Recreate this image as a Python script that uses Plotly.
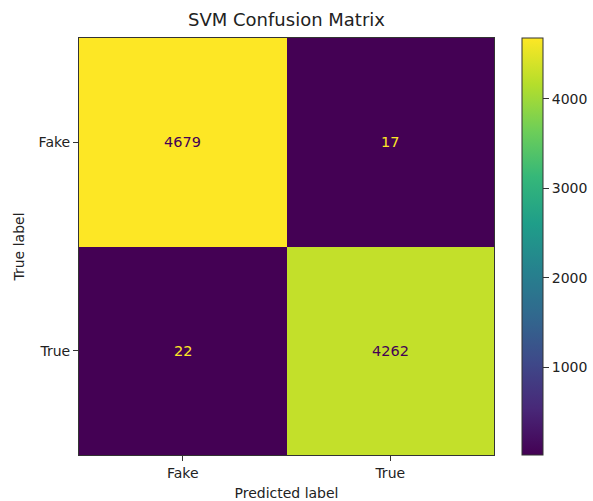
import plotly.graph_objects as go

# Confusion matrix for the SVM classifier
class_names = ["Fake", "True"]
counts = [
    [4679, 17],
    [22, 4262],
]
colorbar_ticks = [1000, 2000, 3000, 4000]

zmin = min(min(r) for r in counts)
zmax = max(max(r) for r in counts)
mid = (zmin + zmax) / 2

FONT = "DejaVu Sans, sans-serif"
DARK = "#440154"
LIGHT = "#fde725"
INK = "#222222"

W, H = 593, 501
L, R, T, B = 79, 99, 38, 46
plot_w = W - L - R

fig = go.Figure(
    go.Heatmap(
        z=counts,
        x=class_names,
        y=class_names,
        colorscale="Viridis",
        zmin=zmin,
        zmax=zmax,
        showscale=True,
        colorbar=dict(
            x=(522 - L) / plot_w,
            xanchor="left",
            xpad=0,
            ypad=0,
            len=1,
            lenmode="fraction",
            y=0.5,
            yanchor="middle",
            thickness=21,
            thicknessmode="pixels",
            outlinewidth=1,
            outlinecolor="#333333",
            tickvals=colorbar_ticks,
            ticks="outside",
            ticklen=6,
            tickcolor="#333333",
            tickfont=dict(family=FONT, size=14, color=INK),
        ),
        hoverinfo="skip",
    )
)

annotations = []
for i, row in enumerate(counts):
    for j, val in enumerate(row):
        annotations.append(
            dict(
                x=class_names[j],
                y=class_names[i],
                text=str(val),
                showarrow=False,
                font=dict(family=FONT, size=14.5, color=DARK if val > mid else LIGHT),
            )
        )

fig.update_layout(
    width=W,
    height=H,
    margin=dict(l=L, r=R, t=T, b=B, autoexpand=False),
    paper_bgcolor="white",
    plot_bgcolor="white",
    title=dict(
        text="SVM Confusion Matrix",
        x=(L + L + plot_w) / 2 / W,
        xanchor="center",
        y=1 - 20 / H,
        yanchor="middle",
        font=dict(family=FONT, size=18, color=INK),
    ),
    annotations=annotations,
    font=dict(family=FONT, color=INK),
)

fig.update_xaxes(
    title=dict(text="Predicted label", font=dict(family=FONT, size=14), standoff=8),
    tickfont=dict(family=FONT, size=14),
    ticks="outside",
    ticklen=5,
    tickcolor="#333333",
    showline=True,
    linecolor="#333333",
    linewidth=1,
    mirror=True,
    showgrid=False,
    zeroline=False,
)
fig.update_yaxes(
    title=dict(text="True label", font=dict(family=FONT, size=14), standoff=10),
    tickfont=dict(family=FONT, size=14),
    autorange="reversed",
    ticks="outside",
    ticklen=5,
    tickcolor="#333333",
    showline=True,
    linecolor="#333333",
    linewidth=1,
    mirror=True,
    showgrid=False,
    zeroline=False,
)

fig.write_html("out.html")
